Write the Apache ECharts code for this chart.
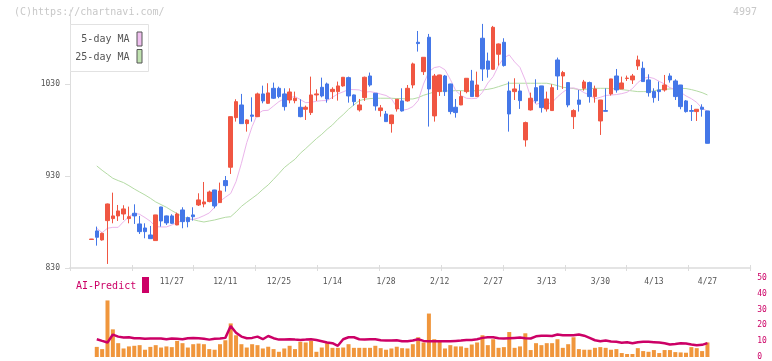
<!DOCTYPE html>
<html><head><meta charset="utf-8">
<script src="https://cdn.jsdelivr.net/npm/echarts@6/dist/echarts.min.js"></script>
<style>html,body{margin:0;padding:0;background:#fff}#c{width:772px;height:361px}</style>
</head><body><div id="c"></div>
<script>
const dates = [
'11/6','11/7','11/8','11/11','11/12','11/13','11/14','11/15','11/18','11/19',
'11/20','11/21','11/22','11/25','11/26','11/27','11/28','11/29','12/2','12/3',
'12/4','12/5','12/6','12/9','12/10','12/11','12/12','12/13','12/16','12/17',
'12/18','12/19','12/20','12/23','12/24','12/25','12/26','12/27','12/30','1/6',
'1/7','1/8','1/9','1/10','1/13','1/14','1/15','1/16','1/17','1/20',
'1/21','1/22','1/23','1/24','1/27','1/28','1/29','1/30','1/31','2/3',
'2/4','2/5','2/6','2/7','2/10','2/12','2/13','2/14','2/17','2/18',
'2/19','2/20','2/21','2/25','2/26','2/27','2/28','3/2','3/3','3/4',
'3/5','3/6','3/9','3/10','3/11','3/13','3/16','3/17','3/18','3/19',
'3/23','3/24','3/25','3/26','3/27','3/30','3/31','4/1','4/2','4/3',
'4/6','4/7','4/8','4/9','4/10','4/13','4/14','4/15','4/16','4/17',
'4/20','4/21','4/22','4/23','4/24','4/27'];
const labelDates = ['11/27','12/11','12/25','1/14','1/28','2/12','2/27','3/13','3/30','4/13','4/27'];

const opens = [
861.0,870.3,860.5,881.5,883.7,886.6,888.7,883.7,889.5,877.9,
873.5,865.9,859.8,896.3,886.6,886.6,876.8,893.1,884.8,887.7,
898.5,899.6,902.2,914.8,901.1,925.0,939.5,993.4,1007.2,986.9,
996.3,994.5,1019.2,1009.0,1025.3,1025.3,1019.2,1012.6,1011.9,1004.7,
1002.5,998.9,1018.1,1026.4,1030.0,1021.7,1021.7,1027.9,1036.9,1018.1,
1001.8,1015.2,1038.7,1019.9,1001.1,997.4,986.9,1002.9,1011.6,1011.6,
1028.9,1075.3,1043.4,1080.8,995.3,1021.7,1038.7,1030.0,1004.7,1007.2,
1021.7,1033.3,1016.3,1079.7,1055.0,1046.0,1062.3,1075.3,1022.4,1021.7,
1022.4,969.2,1001.8,1026.0,1027.9,1002.9,1001.1,1056.1,1038.7,1031.5,
994.5,1012.6,1025.3,1031.5,1016.3,989.8,1001.1,1019.2,1038.7,1024.6,
1036.0,1034.4,1049.6,1047.1,1034.4,1021.7,1023.5,1023.5,1038.7,1033.3,
1028.9,1011.6,1001.1,1000.0,1004.7,1000.7];
const closes = [
861.5,863.4,867.7,899.6,886.6,892.0,894.2,885.8,886.6,869.5,
869.5,861.9,887.7,881.1,879.0,878.6,888.7,880.4,880.4,885.8,
904.0,901.8,912.6,897.4,913.7,919.5,994.5,1010.8,986.9,990.9,
994.9,1019.2,1011.6,1020.3,1014.5,1016.3,1005.4,1021.3,1014.5,994.5,
1004.7,1018.1,1019.2,1017.0,1013.7,1024.2,1027.9,1037.3,1017.0,1010.8,
1007.2,1037.3,1028.9,1006.1,1004.0,989.1,996.3,1013.4,1000.7,1025.3,
1051.8,1073.9,1059.0,1024.6,1038.7,1039.8,1021.7,1000.0,998.9,1016.3,
1036.2,1016.3,1028.9,1046.3,1046.0,1091.6,1073.5,1050.0,997.4,1024.6,
1011.9,988.0,1014.5,1011.6,1004.3,1013.7,1026.0,1038.7,1042.4,1007.2,
1001.1,1007.9,1032.2,1016.3,1024.6,1012.6,1000.3,1035.5,1023.5,1031.1,
1036.4,1038.7,1056.1,1032.6,1020.6,1015.2,1021.7,1028.9,1034.4,1016.3,
1005.4,1000.0,1000.3,1002.5,1002.5,965.5];
const lows = [
860.8,854.3,859.8,834.4,878.6,881.1,882.2,878.6,877.9,867.0,
862.3,861.9,859.8,875.0,876.8,877.9,876.5,873.2,874.2,881.5,
897.4,896.0,901.4,894.9,901.0,913.0,932.2,989.1,986.9,978.2,
989.1,994.0,1009.0,1008.3,1013.7,1014.5,1001.1,1009.0,1009.0,993.8,
990.9,996.3,1011.6,1015.5,1009.7,1013.7,1011.9,1027.0,1009.7,1006.5,
1000.0,1011.6,1027.1,1001.1,994.5,989.0,977.1,1000.0,1000.0,1010.8,
1025.3,1065.2,1039.8,983.7,989.1,1017.0,1017.0,997.1,993.4,1007.0,
1019.9,1016.0,1016.0,1033.3,1036.9,1045.3,1050.0,1048.9,978.2,1012.6,
1002.9,961.9,1001.1,1009.0,998.9,1000.0,1001.0,1023.5,1024.6,1004.7,
981.1,1000.0,1022.8,1009.7,1009.7,974.6,1000.2,1017.4,1020.6,1024.5,
1033.3,1030.0,1045.3,1032.5,1016.3,1009.7,1011.6,1021.7,1031.5,1012.6,
1002.5,998.9,989.8,989.8,994.5,965.4];
const highs = [
861.6,875.0,868.4,900.0,911.9,898.5,898.2,896.7,899.2,886.6,
878.6,875.7,887.8,896.5,887.0,888.4,890.2,896.0,885.8,896.0,
911.2,923.5,914.1,915.0,922.8,930.0,994.6,1013.4,1019.2,991.6,
1015.5,1020.6,1028.2,1030.8,1031.5,1027.1,1025.3,1025.3,1021.7,1013.4,
1006.5,1038.0,1024.2,1036.9,1031.5,1026.4,1032.6,1037.5,1038.0,1018.5,
1013.7,1038.0,1042.4,1020.0,1007.2,1000.7,996.5,1013.5,1025.3,1028.9,
1053.2,1087.6,1059.2,1084.4,1040.9,1040.0,1039.8,1030.2,1013.7,1022.4,
1036.4,1045.3,1043.4,1095.3,1064.1,1093.1,1074.0,1079.7,1032.6,1036.2,
1029.7,989.1,1020.6,1035.1,1028.0,1021.7,1029.7,1058.7,1044.2,1031.6,
1002.5,1023.5,1034.4,1032.6,1028.2,1012.7,1025.3,1035.6,1046.3,1038.0,
1039.1,1040.9,1060.8,1054.3,1040.5,1025.3,1032.6,1039.8,1041.6,1035.1,
1029.0,1012.6,1007.2,1002.6,1007.9,1000.8];
const ma5 = [
null,873.2,868.4,873.2,874.2,874.2,880.4,885.8,889.5,888.4,
884.8,880.8,875.0,874.6,874.6,876.8,879.3,881.5,882.9,882.9,
884.4,886.9,889.8,896.0,902.5,906.9,911.0,923.9,943.8,966.3,
983.7,997.4,1001.0,1001.4,1006.1,1010.8,1014.1,1015.2,1016.3,1013.0,
1009.7,1010.1,1011.2,1011.9,1012.0,1015.5,1019.2,1021.5,1023.9,1023.9,
1023.5,1021.0,1021.7,1020.6,1019.0,1017.5,1014.1,1004.7,1001.4,1002.5,
1005.4,1012.0,1030.0,1043.4,1047.8,1048.9,1045.5,1035.0,1023.0,1017.5,
1014.5,1014.0,1014.5,1021.0,1031.0,1038.0,1050.0,1058.5,1061.6,1054.0,
1048.0,1034.0,1015.5,1007.9,1009.7,1008.0,1010.0,1016.0,1021.0,1025.0,
1025.8,1024.0,1020.5,1018.0,1014.0,1015.5,1017.5,1018.0,1018.5,1019.5,
1021.0,1025.0,1031.5,1036.0,1037.5,1036.0,1032.8,1030.0,1026.0,1023.8,
1021.0,1017.0,1014.0,1010.0,1003.5,1000.5];
const ma25 = [
null,940.9,936.2,931.9,927.5,925.0,922.8,919.5,915.9,912.6,
909.4,905.8,901.8,898.9,896.0,892.4,889.1,885.8,883.3,882.6,
881.1,880.0,881.1,882.2,883.7,885.1,885.8,891.0,897.0,901.5,
905.8,910.1,915.5,920.3,926.4,932.6,939.1,943.8,948.2,954.7,
959.8,965.2,970.6,975.3,980.8,985.5,991.6,996.7,1002.5,1007.2,
1011.9,1013.4,1014.1,1014.5,1014.5,1014.5,1014.5,1014.1,1014.1,1013.7,
1013.7,1015.2,1017.7,1019.5,1021.3,1022.1,1022.4,1022.4,1022.8,1022.8,
1022.4,1022.4,1022.8,1023.5,1024.2,1025.3,1027.1,1029.0,1030.8,1030.8,
1030.8,1030.8,1030.8,1030.8,1030.8,1030.8,1029.7,1028.2,1026.4,1025.7,
1025.0,1023.9,1023.9,1025.0,1025.3,1025.3,1025.3,1025.0,1024.6,1023.9,
1023.2,1022.4,1021.7,1021.7,1021.7,1022.4,1023.9,1024.2,1024.6,1025.0,
1025.3,1025.0,1023.9,1022.4,1020.6,1018.1];
const volumes = [
null,6.4,5.0,35.8,17.5,8.75,5.4,6.7,7.1,7.5,
4.6,6.4,7.5,6.0,6.7,6.25,10.2,8.75,6.0,8.1,
8.5,8.1,5.0,4.6,8.1,10.6,21.25,13.75,8.1,6.0,
8.1,7.5,5.4,6.5,5.0,3.3,5.4,7.1,5.0,9.6,
9.2,10.2,3.3,6.0,8.75,5.8,5.8,6.0,8.1,5.8,
5.8,5.8,5.8,7.1,5.6,4.6,5.4,6.5,5.6,5.4,
8.1,12.5,9.2,27.5,11.25,10.4,5.4,7.5,6.7,6.7,
5.8,7.9,9.2,13.75,7.5,11.25,5.8,6.25,15.8,5.8,
6.7,15.0,4.4,8.75,7.5,8.75,8.75,11.25,5.8,8.1,
12.5,5.0,4.6,4.6,5.8,6.25,5.8,4.6,5.0,2.5,
1.9,1.9,5.6,3.75,3.3,4.4,2.5,4.4,4.4,3.1,
2.9,2.7,6.25,5.6,3.75,9.2];
const aiPredict = [
null,11.25,10.2,9.2,14.2,12.9,12.3,12.5,11.9,11.9,
11.5,11.7,11.7,11.7,11.25,11.7,11.5,11.25,11.9,12.1,
11.9,11.5,11.0,11.5,11.7,12.1,19.6,15.4,12.9,11.9,
12.1,12.9,11.25,13.3,11.9,11.0,11.0,11.25,11.0,10.8,
11.0,11.25,10.8,10.0,9.2,8.75,7.1,11.25,12.5,12.5,
11.25,11.0,11.25,11.25,10.6,10.4,10.4,10.6,10.0,10.0,
10.4,11.25,10.2,10.0,10.0,10.0,10.0,10.0,10.2,10.4,
10.8,10.8,11.25,12.1,12.5,12.5,11.9,11.7,11.9,12.1,
12.3,11.9,11.7,13.1,13.5,13.5,13.3,14.2,13.75,13.75,
13.75,14.2,13.5,12.1,10.6,10.0,10.4,9.8,9.6,9.0,
9.4,8.75,9.4,9.6,9.6,9.4,9.2,8.75,7.9,8.3,
8.75,8.5,7.9,7.5,7.7,8.75];
const priceTicks = [830, 930, 1030];

const PAD_L = 4, PAD_R = 8;
const cats = [];
for (let k = 0; k < PAD_L; k++) cats.push('L' + k);
dates.forEach(d => cats.push(d));
for (let k = 0; k < PAD_R; k++) cats.push('R' + k);
const padArr = arr => [].concat(Array(PAD_L).fill('-'), arr.map(v => v == null ? '-' : v), Array(PAD_R).fill('-'));
const candleData = padArr(dates.map((d, i) => [opens[i], closes[i], lows[i], highs[i]]));

const MONO = '"DejaVu Sans Mono", monospace';
const RED = '#f05642', BLUE = '#4477e8', MAG = '#cc0066';

const chart = echarts.init(document.getElementById('c'), null, {renderer: 'canvas'});
chart.setOption({
  animation: false,
  backgroundColor: '#fff',
  grid: [
    {left: 70, right: 21.7, top: 10, bottom: 93},
    {left: 70, right: 21.7, top: 278, bottom: 3}
  ],
  xAxis: [
    {type: 'category', gridIndex: 0, data: cats, boundaryGap: false,
     axisLine: {show: true, lineStyle: {color: '#e4e4e4', width: 2}},
     axisTick: {show: false}, splitLine: {show: false},
     axisLabel: {interval: (idx, val) => labelDates.indexOf(val) >= 0, margin: 10, fontSize: 8,
                 color: '#555', fontFamily: MONO}},
    {type: 'value', gridIndex: 0, min: 0, max: 11, interval: 1, position: 'bottom',
     axisLine: {show: false}, axisLabel: {show: false}, splitLine: {show: false},
     axisTick: {show: true, inside: true, length: 3, lineStyle: {color: '#dcdcdc'}}},
    {type: 'value', gridIndex: 0, min: 0, max: 11, interval: 1, position: 'bottom',
     axisLine: {show: false}, axisLabel: {show: false}, splitLine: {show: false},
     axisTick: {show: true, inside: false, length: 3, lineStyle: {color: '#dcdcdc'}}},
    {type: 'category', gridIndex: 1, data: cats, boundaryGap: false, show: false}
  ],
  yAxis: [
    {type: 'value', gridIndex: 0, min: 830, max: 1110.4, interval: 100, position: 'left',
     axisLine: {show: true, lineStyle: {color: '#dddddd', width: 1}},
     axisTick: {show: true, length: 5, customValues: priceTicks, lineStyle: {color: '#dddddd'}},
     axisLabel: {customValues: priceTicks, formatter: v => String(Math.round(v)), margin: 10, fontSize: 8,
                 color: '#555', fontFamily: MONO},
     splitLine: {show: false}},
    {type: 'value', gridIndex: 1, min: 0, max: 50, interval: 10, position: 'right',
     axisLine: {show: false}, axisTick: {show: false}, splitLine: {show: false},
     axisLabel: {margin: 7, fontSize: 8, color: MAG, fontFamily: MONO}}
  ],
  series: [
    {name: '25-day MA', type: 'line', xAxisIndex: 0, yAxisIndex: 0, data: padArr(ma25),
     symbol: 'none', z: 1, lineStyle: {color: '#b4dba4', width: 1}},
    {name: '5-day MA', type: 'line', xAxisIndex: 0, yAxisIndex: 0, data: padArr(ma5),
     symbol: 'none', z: 1, lineStyle: {color: '#ebb5eb', width: 1}},
    {name: 'price', type: 'candlestick', xAxisIndex: 0, yAxisIndex: 0, data: candleData,
     barWidth: 4, z: 3,
     itemStyle: {color: RED, color0: BLUE, borderColor: RED, borderColor0: BLUE, borderWidth: 1}},
    {name: 'volume', type: 'bar', xAxisIndex: 3, yAxisIndex: 1, data: padArr(volumes),
     barWidth: 4, itemStyle: {color: '#f0963c'}},
    {name: 'AI-Predict', type: 'line', xAxisIndex: 3, yAxisIndex: 1, data: padArr(aiPredict),
     symbol: 'none', z: 4, lineStyle: {color: MAG, width: 2.5}}
  ],
  graphic: [
    {type: 'text', silent: true, style: {x: 14, y: 12.5, text: '(C)https://chartnavi.com/', fill: '#c8c8c8',
      font: '10px ' + MONO, verticalAlign: 'middle'}},
    {type: 'text', silent: true, style: {x: 757, y: 12.5, text: '4997', fill: '#c8c8c8',
      font: '10px ' + MONO, align: 'right', verticalAlign: 'middle'}},
    {type: 'rect', silent: true, z: 10, shape: {x: 70.5, y: 24.5, width: 78, height: 47},
     style: {fill: '#fff', stroke: '#e2e2e2', lineWidth: 1}},
    {type: 'text', silent: true, z: 11, style: {x: 129.5, y: 39.5, text: '5-day MA', fill: '#555',
      font: '10px ' + MONO, align: 'right', verticalAlign: 'middle'}},
    {type: 'text', silent: true, z: 11, style: {x: 129.5, y: 57, text: '25-day MA', fill: '#555',
      font: '10px ' + MONO, align: 'right', verticalAlign: 'middle'}},
    {type: 'rect', silent: true, z: 11, shape: {x: 137, y: 32, width: 5, height: 14},
     style: {fill: '#f0c0f0', stroke: '#555', lineWidth: 1}},
    {type: 'rect', silent: true, z: 11, shape: {x: 137, y: 49.5, width: 5, height: 13.5},
     style: {fill: '#c0e2b0', stroke: '#555', lineWidth: 1}},
    {type: 'text', silent: true, style: {x: 76, y: 286, text: 'AI-Predict', fill: MAG,
      font: '10px ' + MONO, verticalAlign: 'middle'}},
    {type: 'rect', silent: true, shape: {x: 142, y: 277, width: 7, height: 16}, style: {fill: MAG}}
  ]
});
</script>
</body></html>
